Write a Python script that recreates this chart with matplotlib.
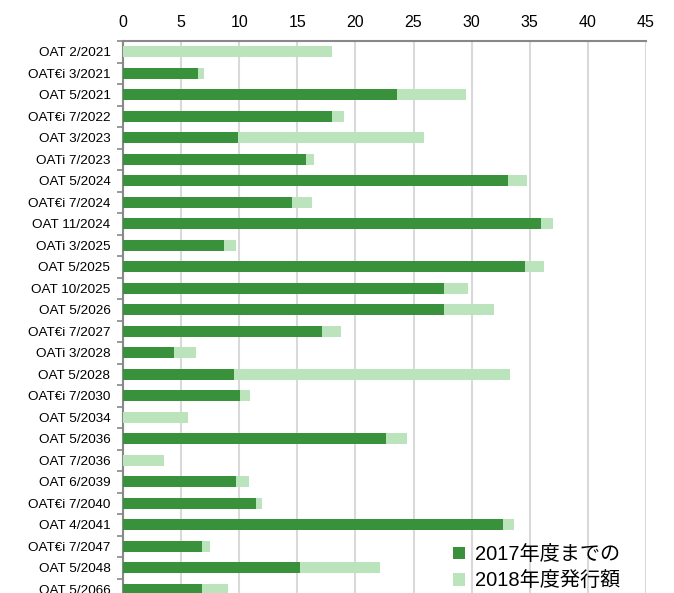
import numpy as np
import matplotlib.pyplot as plt

plt.rcParams['font.family'] = ['Liberation Sans', 'Noto Sans CJK JP', 'DejaVu Sans']

bonds = ["OAT 2/2021", "OAT€i 3/2021", "OAT 5/2021", "OAT€i 7/2022", "OAT 3/2023",
         "OATi 7/2023", "OAT 5/2024", "OAT€i 7/2024", "OAT 11/2024", "OATi 3/2025",
         "OAT 5/2025", "OAT 10/2025", "OAT 5/2026", "OAT€i 7/2027", "OATi 3/2028",
         "OAT 5/2028", "OAT€i 7/2030", "OAT 5/2034", "OAT 5/2036", "OAT 7/2036",
         "OAT 6/2039", "OAT€i 7/2040", "OAT 4/2041", "OAT€i 7/2047", "OAT 5/2048",
         "OAT 5/2066"]
# outstanding up to FY2017
until_2017 = [0, 6.45, 23.6, 18.0, 9.9, 15.75, 33.1, 14.5, 36.0, 8.7,
              34.6, 27.6, 27.6, 17.1, 4.4, 9.55, 10.07, 0, 22.6, 0,
              9.7, 11.45, 32.7, 6.77, 15.2, 6.77]
# total after FY2018 issuance
total_2018 = [18.0, 6.97, 29.5, 19.0, 25.9, 16.4, 34.8, 16.3, 37.0, 9.7,
              36.2, 29.7, 31.9, 18.8, 6.3, 33.3, 10.9, 5.6, 24.4, 3.55,
              10.8, 11.96, 33.6, 7.5, 22.1, 9.06]
issued_2018 = [t - d for t, d in zip(total_2018, until_2017)]

legend_labels = ["2017年度までの", "2018年度発行額"]
dark = "#3a913b"
light = "#bce4bc"

fig = plt.figure(figsize=(6.74, 5.93), dpi=100)
ax = fig.add_axes([123 / 674, (593 - 600) / 593, (646 - 123) / 674, (600 - 41) / 593])

y = np.arange(len(bonds))
ax.barh(y, until_2017, height=0.52, color=dark, label=legend_labels[0], zorder=3)
ax.barh(y, issued_2018, left=until_2017, height=0.52, color=light, label=legend_labels[1], zorder=3)

ax.set_xlim(0, 45)
ax.set_xticks(np.arange(0, 46, 5))
ax.set_ylim(len(bonds) - 0.5, -0.5)
ax.set_yticks(y)
ax.set_yticklabels(bonds, fontsize=9.7)
ax.set_yticks(np.arange(len(bonds) + 1) - 0.5, minor=True)

ax.xaxis.tick_top()
ax.tick_params(axis='x', length=0, labelsize=11.5, pad=8)
ax.tick_params(axis='y', which='major', length=0, pad=9)
ax.tick_params(axis='y', which='minor', length=4, color='#888888', width=1.2)

ax.grid(axis='x', color='#d9d9d9', linewidth=1.5, zorder=0)
for side in ['right', 'bottom']:
    ax.spines[side].set_visible(False)
for side in ['top', 'left']:
    ax.spines[side].set_color('#888888')
    ax.spines[side].set_linewidth(1.5)

fig.legend(loc='upper left', bbox_to_anchor=(443 / 674, 1 - 535 / 593), frameon=False,
           fontsize=14.5, handlelength=0.6, handleheight=0.6, handletextpad=0.5,
           labelspacing=0.35, borderpad=0)

fig.savefig("out.png", dpi=100)
